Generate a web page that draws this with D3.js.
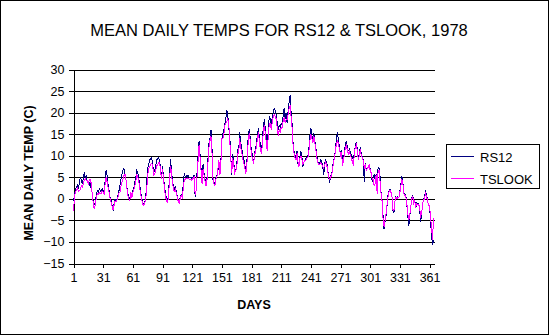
<!DOCTYPE html>
<html><head><meta charset="utf-8">
<script src="https://cdn.jsdelivr.net/npm/d3@7"></script>
<style>
html,body{margin:0;padding:0;background:#fff;}
text{font-family:"Liberation Sans",Arial,sans-serif;}
</style></head>
<body><svg id="c" width="550" height="336"></svg>
<script>
const title = "MEAN DAILY TEMPS FOR RS12 & TSLOOK, 1978";
const yTitle = "MEAN DAILY TEMP (C)";
const xTitle = "DAYS";
const seriesNames = ["RS12", "TSLOOK"];
const xTicks = [1,31,61,91,121,151,181,211,241,271,301,331,361];
const yTicks = [-15,-10,-5,0,5,10,15,20,25,30];

const rs12 = [
-0.5,0.8,2.3,2.7,3.1,2.3,3.9,5.0,4.2,3.5,
5.0,6.2,4.6,5.4,3.9,3.5,3.2,4.2,1.9,1.5,
-0.8,-1.2,-0.9,0.8,1.9,1.5,2.3,1.9,1.5,2.3,
1.9,1.5,4.3,6.6,5.4,3.1,1.9,0.4,-0.4,-1.5,
-2.7,-1.2,0.0,-0.8,0.0,0.8,1.9,3.1,4.6,5.8,
6.6,7.0,5.8,4.6,2.7,1.2,0.4,0.0,0.8,0.5,
2.0,2.5,3.8,5.0,6.6,6.0,4.8,3.2,1.5,0.2,
-1.0,-1.3,-0.8,0.2,4.0,7.0,8.0,9.0,9.3,9.5,
8.2,6.0,6.5,7.2,9.0,9.2,9.6,9.0,7.0,5.0,
7.5,5.0,3.0,1.0,0.2,-0.8,0.8,5.0,9.2,7.0,
4.0,3.0,2.0,3.0,1.5,0.5,-0.5,-0.8,0.5,1.0,
0.5,3.5,6.0,5.0,5.3,5.0,5.5,5.0,5.0,4.8,
5.0,5.0,5.5,0.4,2.0,6.5,10.0,13.5,10.0,7.0,
4.0,8.0,6.0,4.5,3.5,5.0,9.5,13.0,14.0,16.0,
12.0,4.5,4.0,3.5,5.0,5.5,6.5,7.5,6.0,8.5,
14.0,15.0,16.0,17.5,18.5,20.5,19.5,16.5,14.5,10.0,
5.5,10.5,8.5,6.5,6.5,7.5,11.5,11.0,15.5,13.0,
12.0,10.0,9.5,8.5,6.5,7.0,12.0,15.5,16.0,13.0,
11.0,10.0,8.0,10.5,11.5,13.0,15.0,16.5,14.0,12.5,
11.0,13.5,17.0,18.5,16.0,14.0,12.0,16.5,19.0,18.5,
17.0,19.0,20.0,21.0,20.5,19.5,17.5,16.0,17.0,16.5,
17.5,17.0,19.5,21.0,18.5,20.0,17.5,20.5,22.5,24.0,
20.0,17.5,13.0,11.0,10.0,9.5,11.0,8.0,7.5,10.0,
11.0,9.5,7.5,8.5,9.0,9.5,9.5,10.0,11.6,14.5,
16.5,14.7,13.5,15.2,13.5,12.0,10.0,8.5,8.1,8.3,
9.0,8.5,7.5,5.5,8.3,9.0,8.5,7.0,5.0,3.8,
5.4,5.5,7.5,8.9,10.0,11.8,14.3,15.5,13.1,12.0,
10.0,11.2,8.9,9.5,11.0,12.8,13.5,11.6,11.2,11.5,
10.6,10.3,9.7,9.0,11.0,12.4,13.1,11.5,9.3,10.5,
12.0,10.4,9.7,8.9,4.0,8.4,6.6,7.0,7.3,8.1,
6.8,6.0,3.9,5.0,5.5,4.5,5.7,3.9,7.3,7.0,
5.0,1.2,-0.4,-4.0,-7.0,-5.3,-4.0,-1.5,0.8,1.9,
2.3,1.7,0.5,-2.7,-3.3,-0.5,0.5,0.2,0.5,0.2,
1.8,3.5,5.3,3.8,1.3,1.0,0.8,-1.3,-3.9,-6.4,
-4.0,-2.0,0.2,0.9,-1.0,-0.2,-2.2,-1.0,-1.3,-1.0,
-2.4,-5.4,-3.7,-1.0,-0.2,0.5,1.7,1.0,-0.5,-1.5,
-1.8,-5.0,-8.5,-10.8,-9.5
];

const tslook = [
-2.9,0.5,1.5,2.0,2.5,1.8,1.9,2.3,3.0,2.7,
3.5,4.5,4.6,4.2,4.3,3.5,4.3,4.5,3.5,1.0,
-1.2,-2.3,-1.5,0.2,1.2,1.0,1.5,1.2,1.2,1.8,
1.5,1.2,3.5,5.0,3.9,2.5,1.5,0.0,-0.8,-1.8,
-2.5,-1.5,-0.5,-0.8,-0.3,0.5,1.3,1.5,3.0,3.9,
4.6,5.4,5.8,4.6,2.5,0.8,0.0,-0.4,1.5,0.3,
1.5,2.0,3.0,4.0,5.5,5.2,4.0,2.5,1.0,-0.2,
-1.2,-1.5,-1.0,0.0,2.0,5.5,7.0,7.5,8.0,8.2,
7.7,5.5,5.8,6.5,7.5,8.0,8.3,8.5,6.5,4.5,
7.0,4.5,2.5,0.5,-0.3,-1.0,0.5,4.0,7.5,6.5,
3.5,2.5,1.5,2.5,1.2,0.3,-0.7,-1.0,0.2,0.8,
0.3,2.5,4.5,4.5,4.8,4.6,4.8,4.5,4.6,4.3,
4.5,4.7,5.0,1.0,2.0,5.5,9.0,12.5,9.5,6.5,
3.5,7.0,5.5,4.0,3.0,4.5,8.5,12.0,13.5,14.5,
11.0,5.0,3.5,3.0,4.5,5.0,7.0,9.0,5.5,8.0,
14.0,14.0,15.0,17.0,17.5,18.0,18.5,17.5,13.5,9.5,
6.0,9.5,8.0,6.0,6.5,7.0,10.5,10.5,14.0,12.0,
11.0,9.5,8.5,7.5,6.0,6.5,11.0,14.5,15.0,12.5,
10.0,9.5,8.0,10.0,11.0,12.0,14.0,15.5,13.0,11.5,
10.5,12.5,16.0,17.0,15.0,13.0,11.0,15.0,17.5,17.5,
16.0,18.0,19.0,19.5,19.0,18.5,16.5,14.5,16.0,15.5,
16.5,16.5,18.0,19.0,17.5,18.5,18.5,19.5,21.0,21.5,
19.0,16.5,12.5,10.5,9.5,9.0,10.5,8.5,7.5,9.5,
10.0,9.0,8.0,8.5,9.0,9.0,9.5,9.5,11.0,13.5,
15.0,14.0,13.0,14.5,13.0,11.5,9.5,8.5,8.0,8.0,
8.5,8.0,7.5,7.0,8.0,8.5,8.0,6.5,5.0,4.5,
5.0,5.5,7.0,8.5,9.5,11.5,13.0,13.5,12.5,11.5,
10.0,10.5,7.7,9.0,10.5,12.0,12.5,11.0,10.5,11.0,
10.0,9.5,8.5,7.7,10.5,12.0,12.5,11.0,9.0,10.0,
11.5,10.0,9.5,8.9,7.0,8.0,6.5,7.0,7.3,8.0,
6.5,6.0,4.5,4.5,3.1,3.5,5.5,1.2,6.5,6.5,
4.0,1.2,-0.5,-4.6,-6.5,-5.0,-3.5,-1.5,0.5,1.5,
2.0,1.5,0.5,-2.5,-2.8,-0.5,0.3,0.0,0.3,0.3,
1.5,3.0,4.5,3.5,1.2,0.8,0.5,-1.0,-3.5,-5.0,
-3.8,-2.0,0.0,0.5,-1.0,-0.5,-2.0,-1.2,-1.3,-1.2,
-2.2,-4.0,-3.5,-1.0,-0.5,0.3,1.2,0.5,-0.5,-1.5,
-1.5,-4.5,-6.5,-9.5,-4.5
];

const colors = ["#000080", "#FF00FF"];
const svg = d3.select("#c");

svg.append("rect").attr("x",0.5).attr("y",0.5).attr("width",548).attr("height",334)
  .attr("fill","#fff").attr("stroke","#000").attr("stroke-width",1).attr("shape-rendering","crispEdges");

const x = d3.scaleLinear().domain([1,366]).range([73.5,434.5]);
const y = d3.scaleLinear().domain([-15,30]).range([263.5,69.5]);

// gridlines
svg.append("g").selectAll("line").data(yTicks).join("line")
  .attr("x1",73.5).attr("x2",434.5)
  .attr("y1",d=>Math.round(y(d))+0.5).attr("y2",d=>Math.round(y(d))+0.5)
  .attr("stroke","#000").attr("shape-rendering","crispEdges");

// y axis
const yAxis = d3.axisLeft(y).tickValues(yTicks).tickSize(5).tickPadding(4).tickFormat(d3.format("d"));
const gy = svg.append("g").attr("transform","translate(73.5,0)").call(yAxis);
gy.select(".domain").attr("stroke","#000").attr("shape-rendering","crispEdges");
gy.selectAll(".tick line").attr("shape-rendering","crispEdges");
gy.selectAll("text").attr("font-size",12.5).attr("font-family","'Liberation Sans',Arial,sans-serif").attr("fill","#000");

// x axis
const xAxis = d3.axisBottom(x).tickValues(xTicks).tickSize(4).tickSizeOuter(0).tickPadding(6).tickFormat(d3.format("d"));
const gx = svg.append("g").attr("transform","translate(0,263.5)").call(xAxis);
gx.select(".domain").remove();
gx.selectAll(".tick line").attr("shape-rendering","crispEdges");
gx.selectAll("text").attr("font-size",12.5).attr("font-family","'Liberation Sans',Arial,sans-serif").attr("fill","#000");

// lines
const line = d3.line().x((d,i)=>x(i+1)).y(d=>y(d));
[rs12, tslook].forEach((s,k)=>{
  svg.append("path").datum(s).attr("d",line).attr("fill","none")
    .attr("stroke",colors[k]).attr("stroke-width",1).attr("shape-rendering","crispEdges");
});

// titles
svg.append("text").attr("x",279).attr("y",36).attr("text-anchor","middle")
  .attr("font-size",16.5).text(title);
svg.append("text").attr("transform","translate(33,173) rotate(-90)").attr("text-anchor","middle")
  .attr("font-size",12.5).attr("font-weight","bold").text(yTitle);
svg.append("text").attr("x",254).attr("y",309).attr("text-anchor","middle")
  .attr("font-size",12.5).attr("font-weight","bold").text(xTitle);

// legend
const lg = svg.append("g");
lg.append("rect").attr("x",446.5).attr("y",144.5).attr("width",93).attr("height",44)
  .attr("fill","#fff").attr("stroke","#000").attr("shape-rendering","crispEdges");
seriesNames.forEach((n,k)=>{
  const yy = 156.5 + k*22;
  lg.append("line").attr("x1",451).attr("x2",474).attr("y1",yy).attr("y2",yy)
    .attr("stroke",colors[k]).attr("shape-rendering","crispEdges");
  lg.append("text").attr("x",480).attr("y",yy+5).attr("font-size",13).text(n);
});
</script></body></html>
